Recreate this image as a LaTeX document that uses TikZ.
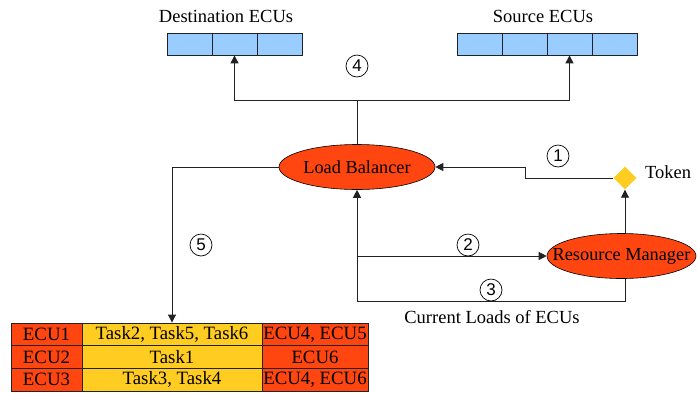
\documentclass[tikz,border=0pt]{standalone}
\usepackage{fontspec}
\setmainfont{Liberation Serif}
\newfontfamily\numfont{Liberation Sans}
\usetikzlibrary{shapes.geometric,arrows.meta}

\definecolor{ecublue}{HTML}{99CCFF}
\definecolor{redorange}{HTML}{FF4510}
\definecolor{tokgold}{HTML}{FFCC22}
\definecolor{linegray}{HTML}{222222}

\tikzset{
  arr/.style={draw=linegray, line width=0.9pt, -{Triangle[width=8pt,length=8pt]}},
  plain/.style={draw=linegray, line width=0.9pt},
  slot/.style={draw=linegray, line width=0.8pt, fill=ecublue, rectangle,
    minimum width=45pt, minimum height=22pt, inner sep=0pt},
  agent/.style={ellipse, draw=black, line width=0.6pt, fill=redorange, inner sep=0pt,
    minimum height=45pt, font=\fontsize{18.3}{20}\selectfont},
  stepnum/.style={circle, draw=black, line width=0.7pt, minimum size=22pt, inner sep=0pt,
    font=\numfont\fontsize{17}{18}\selectfont},
  cell/.style={rectangle, draw=linegray, line width=0.8pt, inner sep=0pt,
    minimum height=22.7pt, font=\fontsize{18.8}{20}\selectfont},
  ecucell/.style={cell, fill=redorange},
  taskcell/.style={cell, fill=tokgold},
  caption/.style={font=\fontsize{18.5}{20}\selectfont, inner sep=0pt}
}
% label that does not widen its ellipse
\newcommand{\flatlabel}[1]{\makebox[0pt]{#1}}

\begin{document}
\begin{tikzpicture}[x=1pt,y=-1pt]
\useasboundingbox (0,0) rectangle (697,392);

% destination ECU slots
\node[caption] (dstlbl) at (226,16) {Destination ECUs};
\node[slot] (dst1) at (189.5,44) {};
\node[slot] (dst2) at (234.5,44) {};
\node[slot] (dst3) at (279.5,44) {};

% source ECU slots
\node[caption] (srclbl) at (543,16) {Source ECUs};
\node[slot] (src1) at (479.5,44) {};
\node[slot] (src2) at (524.5,44) {};
\node[slot] (src3) at (569.5,44) {};
\node[slot] (src4) at (614.5,44) {};

% agents
\node[agent, minimum width=156pt] (lb) at (357,167) {\flatlabel{Load Balancer}};
\node[agent, minimum width=149pt] (rm) at (621.5,256) {\flatlabel{Resource Manager}};

% token
\node[diamond, fill=tokgold, minimum size=23pt, inner sep=0pt] (tok) at (625,178) {};
\node[caption, anchor=west] (toklbl) at (645,172) {Token};

% junction points
\coordinate (j4) at (357,100);
\coordinate (j1) at (525,178);
\coordinate (j2) at (357,256);
\coordinate (bl) at (357,301);
\coordinate (br) at (625,301);

% step 4: balancer to ECU slots
\draw[plain] (lb.north) -- (j4);
\draw[arr] (j4) -| (dst2.south);
\draw[arr] (j4) -| (src3.south);

% step 1: token to balancer
\draw[arr] (tok.west) -- (j1) |- (lb.east);

% resource manager hands the token over
\draw[arr] (rm.north -| tok.south) -- (tok.south);

% steps 2 and 3
\draw[arr] (bl) -- (lb.south);
\draw[arr] (j2) -- (rm.west);
\draw[plain] (rm.south -| br) -- (br) -- (bl);

% mapping table
\node[ecucell, minimum width=71pt] (e11) at (46.5,334.3) {ECU1};
\node[taskcell, minimum width=180pt] (e12) at (172,334.3) {Task2, Task5, Task6};
\node[ecucell, minimum width=106pt] (e13) at (315,334.3) {ECU4, ECU5};
\node[ecucell, minimum width=71pt] (e21) at (46.5,357) {ECU2};
\node[taskcell, minimum width=180pt] (e22) at (172,357) {Task1};
\node[ecucell, minimum width=106pt] (e23) at (315,357) {ECU6};
\node[ecucell, minimum width=71pt] (e31) at (46.5,379.7) {ECU3};
\node[taskcell, minimum width=180pt] (e32) at (172,379.7) {Task3, Task4};
\node[ecucell, minimum width=106pt] (e33) at (315,379.7) {ECU4, ECU6};

% step 5: balancer writes the table
\draw[arr] (lb.west) -| (e12.north);

% step numbers
\node[stepnum] (n1) at (558,156) {1};
\node[stepnum] (n2) at (468,245) {2};
\node[stepnum] (n3) at (491,290) {3};
\node[stepnum] (n4) at (357,66) {4};
\node[stepnum] (n5) at (201,245) {5};

\node[caption] (loadlbl) at (492,317) {Current Loads of ECUs};
\end{tikzpicture}
\end{document}
